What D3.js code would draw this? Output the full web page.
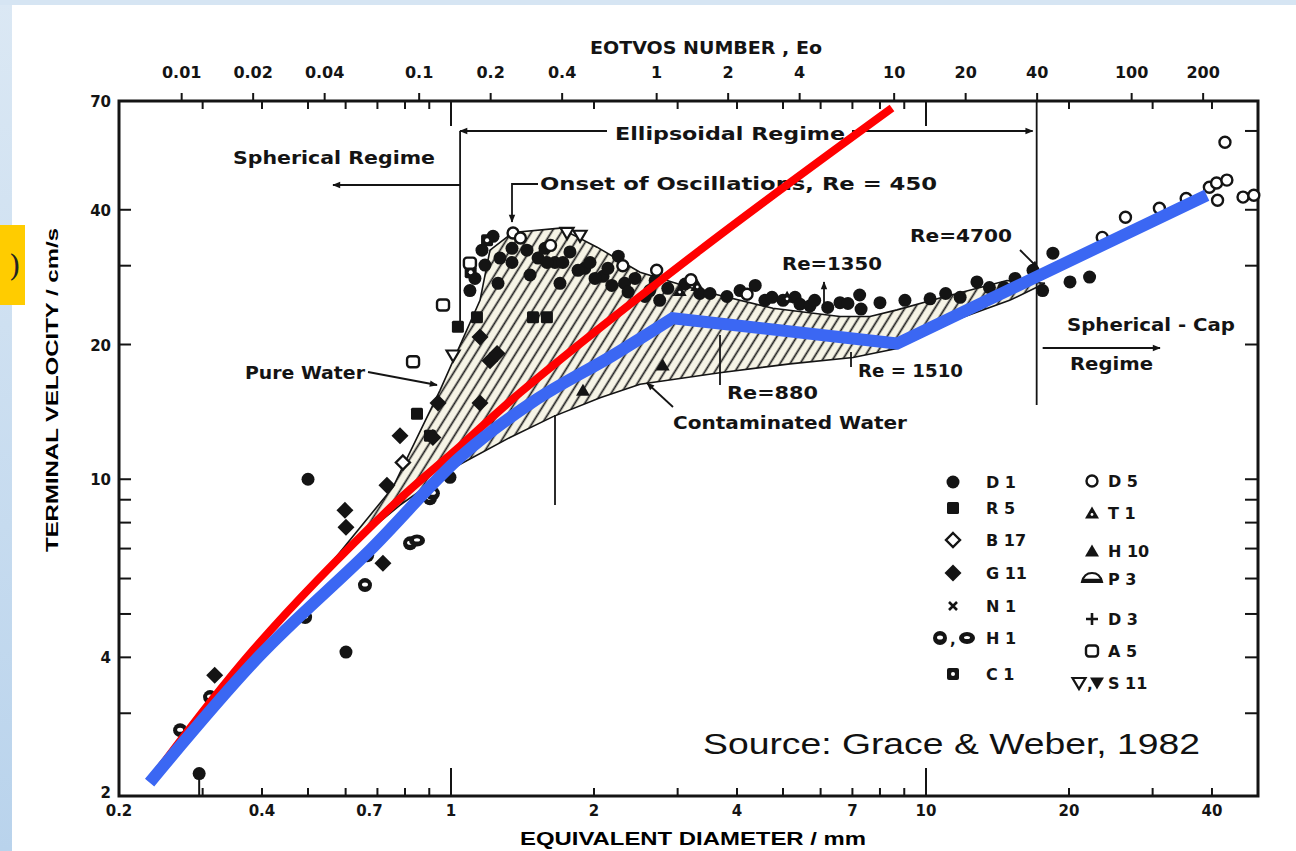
<!DOCTYPE html>
<html>
<head>
<meta charset="utf-8">
<script src="https://cdn.jsdelivr.net/npm/d3@7"></script>
<style>
  html, body { margin: 0; padding: 0; background: #fff; overflow: hidden; }
  svg { display: block; }
</style>
</head>
<body>
<svg id="chart" width="1296" height="851"></svg>
<script>
// ---------- axis tick values ----------
const diameterLabels = [0.2, 0.4, 0.7, 1, 2, 4, 7, 10, 20, 40];
const diameterMinorTicks = [0.3, 0.4, 0.5, 0.6, 0.7, 0.8, 0.9, 2, 3, 4, 5, 6, 7, 8, 9, 20, 30, 40];
const diameterMajorTicks = [1, 10];
const eotvosLabels = [0.01, 0.02, 0.04, 0.1, 0.2, 0.4, 1, 2, 4, 10, 20, 40, 100, 200];
const velocityLabels = [70, 40, 20, 10, 4, 2];
const velocityTicksLeft = [3, 4, 5, 6, 7, 8, 9, 10, 20, 30, 40];
const velocityTicksRight = [3, 4, 5, 6, 7, 8, 9, 10, 20, 30, 40, 60];
const diameterAtEo1 = 2.71;          // mm, air bubble in water where Eo = 1
const sphericalLimit = 1.045;        // mm, end of spherical regime
const capLimit = 17.1;               // mm, start of spherical-cap regime

// ---------- band between pure and contaminated water ([d mm, U cm/s]) ----------
const pureWater = [[0.570,6.66],[0.755,9.60],[0.948,15.8],[1.151,25.1],[1.208,32.5],[1.351,35.6],
  [1.696,36.4],[2.03,33.0],[2.50,29.0],[3.34,26.4],[4.76,24.1],[6.59,23.1],[7.62,23.1],[8.69,23.9],
  [10.7,25.4],[14.8,27.8],[17.8,27.4]];
const contaminatedWater = [[0.570,6.66],[0.781,8.75],[0.995,10.5],[1.331,12.4],[1.640,13.8],[2.06,15.2],
  [2.50,16.3],[3.68,17.3],[5.17,18.1],[7.02,18.7],[8.69,19.6],[11.8,22.9],[15.0,25.1],[17.8,27.4]];

// ---------- overlaid model curves ----------
const redCurve = [[0.232,2.11],[0.383,4.15],[0.755,8.75],[1.045,11.85],[1.397,15.6],[3.344,32.5],[8.48,67.5]];
const blueCurve = [[0.232,2.10],[0.396,4.04],[0.675,6.94],[1.045,11.2],[1.488,14.9],[2.19,18.9],
  [2.93,22.9],[8.69,20.1],[39.0,43.1]];
const blueSmoothCount = 7;           // first points follow a smooth curve, the rest are straight runs

// ---------- measured points by source ----------
const pointsD1 = [[0.500,10.0],[0.601,4.11],[0.995,10.1],
  [1.162,32.5],[1.226,34.9],[1.268,31.2],[1.344,30.5],[1.445,32.5],[1.525,31.2],[1.577,32.8],[1.655,30.5],
  [1.72,30.5],[1.780,32.2],[1.913,29.6],[1.962,30.5],[2.09,28.4],[2.14,29.6],[2.25,31.5],[2.32,27.4],
  [2.44,28.1],[2.62,26.4],[2.69,27.8],[2.86,26.7],[3.11,27.3],[3.34,26.0],[3.51,26.0],[3.81,25.6],
  [4.06,26.4],[4.37,27.1],[4.58,25.1],[4.74,25.5],[5.00,25.1],[5.30,25.5],[5.43,24.6],[5.70,24.4],
  [5.83,25.1],[6.21,24.2],[6.59,24.8],[6.85,24.7],[7.25,25.8],[7.3,24.0],[8.0,24.8],[9.03,25.1],
  [10.2,25.3],[11.0,26.0],[11.8,25.5],[12.8,27.6],[13.6,26.8],[14.6,26.8],[15.4,28.1],[16.8,29.3],
  [17.6,26.4],[18.5,32.0],[20.1,27.6],[22.1,28.3],
  [1.179,30.1],[1.256,27.4],[1.344,32.8],[1.467,28.6],[1.592,30.5],[1.696,27.4],[1.851,29.3],
  [2.01,28.1],[2.18,27.1],[2.36,26.2],[2.56,25.6],[2.75,25.1],[1.096,26.4],[1.123,28.1]];
const pointsD1Stem = [[0.295,2.20]];
const pointsR5 = [[0.903,12.5],[1.034,21.9],[1.134,23.0],[1.488,23.0],[1.592,23.0],[0.848,14.0]];
const pointsC1 = [[1.191,34.2],[1.10,29.0]];
const pointsB17 = [[0.792,10.9]];
const pointsG11 = [[0.318,3.65],[0.598,8.52],[0.601,7.81],[0.719,6.49],[0.733,9.70],[0.781,12.5],
  [0.916,12.4],[0.939,14.8],[1.151,14.8],[1.208,18.4],[1.151,20.8],[1.25,19.1]];
const pointsH1 = [[0.269,2.75],[0.311,3.26],[0.493,4.92],[0.659,5.80],[0.666,6.76],[0.820,7.19],
  [0.903,9.07],[0.916,9.30]];
const pointsH1Oval = [[0.848,7.30]];
const pointsD5 = [[1.351,35.5],[1.40,34.6],[1.62,33.3],[2.30,30.0],[2.71,29.3],[3.20,27.9],[4.2,25.9],
  [23.5,34.7],[26.3,38.5],[31.0,40.3],[35.3,42.4],[39.5,44.9],[40.9,45.9],[43.0,46.6],[41.1,42.0],
  [42.6,56.6],[46.5,42.7],[49.0,43.1]];
const pointsT1 = [[3.30,27.1],[3.03,26.4],[5.10,25.5]];
const pointsH10 = [[2.79,18.0],[1.896,15.8]];
const pointsA5 = [[1.096,30.4],[0.962,24.5],[0.832,18.3]];
const pointsS11Open = [[1.010,18.9],[1.755,35.5],[1.869,35.0]];

// ---------- legend entries ----------
const legendLeft = [["D1","D 1"],["R5","R 5"],["B17","B 17"],["G11","G 11"],["N1","N 1"],["H1pair","H 1"],["C1","C 1"]];
const legendRight = [["D5","D 5"],["T1","T 1"],["H10","H 10"],["P3","P 3"],["D3","D 3"],["A5","A 5"],["S11pair","S 11"]];

// ---------- setup ----------
const svg = d3.select("#chart");
const ink = "#141414";
const scanFont = "'DejaVu Sans', Verdana, sans-serif";
const titleFont = "'Liberation Sans', Arial, Helvetica, sans-serif";

const x = d3.scaleLog().domain([0.2, 50]).range([119, 1258]);
const y = d3.scaleLog().domain([1.96, 70]).range([796, 101]);
const eo = d3.scaleLog()
  .domain([(0.2 / diameterAtEo1) ** 2, (50 / diameterAtEo1) ** 2])
  .range([119, 1258]);

const defs = svg.append("defs");
const grad = defs.append("linearGradient").attr("id", "sideGrad").attr("x1", 0).attr("y1", 0).attr("x2", 0).attr("y2", 1);
grad.append("stop").attr("offset", 0).attr("stop-color", "#dbe8f4");
grad.append("stop").attr("offset", 1).attr("stop-color", "#b9d3ec");

const hatch = defs.append("pattern").attr("id", "hatch").attr("patternUnits", "userSpaceOnUse")
  .attr("width", 8.5).attr("height", 10).attr("patternTransform", "rotate(32)");
hatch.append("rect").attr("width", 8.5).attr("height", 10).attr("fill", "#f6f4e6");
hatch.append("line").attr("x1", 4.2).attr("x2", 4.2).attr("y1", 0).attr("y2", 10)
  .attr("stroke", "#1e1e1e").attr("stroke-width", 1.7);

defs.append("marker").attr("id", "arrow").attr("viewBox", "0 0 10 10").attr("refX", 9).attr("refY", 5)
  .attr("markerWidth", 10).attr("markerHeight", 8).attr("markerUnits", "userSpaceOnUse")
  .attr("orient", "auto-start-reverse")
  .append("path").attr("d", "M0,1L10,5L0,9Z").attr("fill", ink);

// page background
svg.append("rect").attr("width", 1296).attr("height", 851).attr("fill", "#ffffff");
svg.append("rect").attr("x", 0).attr("y", 0).attr("width", 12).attr("height", 851).attr("fill", "url(#sideGrad)");
svg.append("rect").attr("x", 0).attr("y", 0).attr("width", 1296).attr("height", 5).attr("fill", "#d6e5f3");
svg.append("rect").attr("x", 0).attr("y", 225).attr("width", 25).attr("height", 80).attr("fill", "#ffcc00");
svg.append("text").attr("x", 9).attr("y", 276).attr("font-family", "'DejaVu Serif', serif")
  .attr("font-size", 30).attr("fill", "#222").text(")");

// ---------- hatched band ----------
const line = d3.line().x(d => x(d[0])).y(d => y(d[1]));
const bandPts = pureWater.concat(contaminatedWater.slice().reverse());
svg.append("path").attr("d", line(bandPts) + "Z").attr("fill", "url(#hatch)");
svg.append("path").attr("d", line(pureWater)).attr("fill", "none").attr("stroke", ink).attr("stroke-width", 1.6);
svg.append("path").attr("d", line(contaminatedWater)).attr("fill", "none").attr("stroke", ink).attr("stroke-width", 1.6);

// ---------- frame and ticks ----------
const axes = svg.append("g").attr("stroke", ink).attr("fill", "none");
const [x0, x1] = x.range();
const [yB, yT] = y.range();
axes.append("rect").attr("x", x0).attr("y", yT).attr("width", x1 - x0).attr("height", yB - yT).attr("stroke-width", 3);
diameterMinorTicks.forEach(d => {
  axes.append("line").attr("x1", x(d)).attr("x2", x(d)).attr("y1", yB).attr("y2", yB - 8).attr("stroke-width", 2);
  axes.append("line").attr("x1", x(d)).attr("x2", x(d)).attr("y1", yT).attr("y2", yT + 8).attr("stroke-width", 2);
});
diameterMajorTicks.forEach(d => {
  axes.append("line").attr("x1", x(d)).attr("x2", x(d)).attr("y1", yB).attr("y2", yB - 28).attr("stroke-width", 2);
  axes.append("line").attr("x1", x(d)).attr("x2", x(d)).attr("y1", yT).attr("y2", yT + 25).attr("stroke-width", 2);
});
eotvosLabels.forEach(e => {
  axes.append("line").attr("x1", eo(e)).attr("x2", eo(e)).attr("y1", yT).attr("y2", yT - 8).attr("stroke-width", 2);
});
velocityTicksLeft.forEach(v => {
  axes.append("line").attr("x1", x0).attr("x2", x0 + 12).attr("y1", y(v)).attr("y2", y(v)).attr("stroke-width", 2);
});
velocityTicksRight.forEach(v => {
  axes.append("line").attr("x1", x1).attr("x2", x1 - 13).attr("y1", y(v)).attr("y2", y(v)).attr("stroke-width", 2);
});

// tick labels
const lab = svg.append("g").attr("font-family", scanFont).attr("font-weight", "bold").attr("fill", ink);
diameterLabels.forEach(d => {
  lab.append("text").attr("x", x(d) + (d === 0.7 ? -8 : 0)).attr("y", 816).attr("text-anchor", "middle")
    .attr("font-size", 15).text(d);
});
eotvosLabels.forEach(e => {
  lab.append("text").attr("x", eo(e)).attr("y", 78).attr("text-anchor", "middle")
    .attr("font-size", 16).text(e);
});
velocityLabels.forEach(v => {
  lab.append("text").attr("x", 111).attr("y", y(v) + 6).attr("text-anchor", "end")
    .attr("font-size", 15).text(v);
});

// axis titles
lab.append("text").attr("x", 590).attr("y", 54).attr("font-size", 17)
  .attr("textLength", 232).attr("lengthAdjust", "spacingAndGlyphs").text("EOTVOS NUMBER , Eo");
svg.append("text").attr("x", 520).attr("y", 845).attr("font-family", titleFont).attr("font-weight", "bold")
  .attr("font-size", 19).attr("fill", "#000").attr("textLength", 346).attr("lengthAdjust", "spacingAndGlyphs")
  .text("EQUIVALENT DIAMETER / mm");
svg.append("text").attr("transform", "translate(58,552) rotate(-90)").attr("font-family", titleFont)
  .attr("font-weight", "bold").attr("font-size", 16).attr("fill", "#000")
  .attr("textLength", 324).attr("lengthAdjust", "spacingAndGlyphs").text("TERMINAL VELOCITY / cm/s");

// ---------- regime annotations ----------
const ann = svg.append("g").attr("stroke", ink).attr("stroke-width", 1.8).attr("fill", "none");
const xs = x(sphericalLimit), xc = x(capLimit);
ann.append("line").attr("x1", xs).attr("x2", xs).attr("y1", 131).attr("y2", 330);
ann.append("line").attr("x1", xc).attr("x2", xc).attr("y1", yT).attr("y2", 405);
ann.append("line").attr("x1", 607).attr("x2", xs).attr("y1", 131).attr("y2", 131).attr("marker-end", "url(#arrow)");
ann.append("line").attr("x1", 852).attr("x2", xc - 4).attr("y1", 131).attr("y2", 131).attr("marker-end", "url(#arrow)");
ann.append("line").attr("x1", xs).attr("x2", 333).attr("y1", 185).attr("y2", 185).attr("marker-end", "url(#arrow)");
ann.append("path").attr("d", "M538,184H512V222").attr("marker-end", "url(#arrow)");
ann.append("line").attr("x1", 368).attr("x2", 437).attr("y1", 372).attr("y2", 385).attr("marker-end", "url(#arrow)");
ann.append("line").attr("x1", 555).attr("x2", 555).attr("y1", 415).attr("y2", 505);
ann.append("line").attr("x1", 720).attr("x2", 720).attr("y1", 335).attr("y2", 385);
ann.append("line").attr("x1", 851).attr("x2", 851).attr("y1", 352).attr("y2", 367);
ann.append("line").attr("x1", 824).attr("x2", 824).attr("y1", 312).attr("y2", 282).attr("marker-end", "url(#arrow)");
ann.append("line").attr("x1", 1020).attr("x2", 1038).attr("y1", 250).attr("y2", 268).attr("marker-end", "url(#arrow)");
ann.append("line").attr("x1", 673).attr("x2", 647).attr("y1", 407).attr("y2", 383).attr("marker-end", "url(#arrow)");
ann.append("line").attr("x1", xc + 6).attr("x2", 1160).attr("y1", 348).attr("y2", 348).attr("marker-end", "url(#arrow)");

const notes = [
  ["Spherical Regime", 233, 164, 202],
  ["Ellipsoidal  Regime", 615, 140, 230],
  ["Onset of Oscillations, Re = 450", 540, 190, 397],
  ["Pure Water", 245, 379, 120],
  ["Re=880", 727, 399, 91],
  ["Re=1350", 782, 270, 100],
  ["Re = 1510", 858, 377, 105],
  ["Re=4700", 910, 242, 102],
  ["Contaminated Water", 673, 429, 234],
  ["Spherical - Cap", 1067, 331, 168],
  ["Regime", 1070, 370, 83]
];
notes.forEach(([t, tx, ty, w]) => {
  lab.append("text").attr("x", tx).attr("y", ty).attr("font-size", 17)
    .attr("textLength", w).attr("lengthAdjust", "spacingAndGlyphs").text(t);
});

// ---------- markers ----------
function drawMarker(g, type, cx, cy) {
  const m = g.append("g").attr("transform", `translate(${cx},${cy})`);
  switch (type) {
    case "D1": m.append("circle").attr("r", 6.5).attr("fill", ink); break;
    case "R5": m.append("rect").attr("x", -6).attr("y", -6).attr("width", 12).attr("height", 12).attr("rx", 1.5).attr("fill", ink); break;
    case "C1":
      m.append("rect").attr("x", -6).attr("y", -6).attr("width", 12).attr("height", 12).attr("rx", 2).attr("fill", ink);
      m.append("circle").attr("r", 2).attr("fill", "#fff"); break;
    case "B17": m.append("path").attr("d", "M0,-7L7,0L0,7L-7,0Z").attr("fill", "#fff").attr("stroke", ink).attr("stroke-width", 2.4); break;
    case "G11": m.append("path").attr("d", "M0,-8.5L8.5,0L0,8.5L-8.5,0Z").attr("fill", ink); break;
    case "N1": m.append("path").attr("d", "M-4,-4L4,4M-4,4L4,-4").attr("stroke", ink).attr("stroke-width", 2.6); break;
    case "H1":
      m.append("circle").attr("r", 7).attr("fill", ink);
      m.append("ellipse").attr("rx", 3).attr("ry", 2).attr("cy", -0.5).attr("fill", "#fff"); break;
    case "H1oval":
      m.append("ellipse").attr("rx", 8).attr("ry", 6).attr("fill", ink);
      m.append("ellipse").attr("rx", 3).attr("ry", 1.6).attr("cy", -0.5).attr("fill", "#fff"); break;
    case "H1pair":
      drawMarker(g, "H1", cx - 13, cy);
      g.append("text").attr("x", cx - 3).attr("y", cy + 7).attr("font-family", scanFont).attr("font-weight", "bold")
        .attr("font-size", 15).attr("fill", ink).text(",");
      drawMarker(g, "H1oval", cx + 14, cy); break;
    case "D5": m.append("circle").attr("r", 5.5).attr("fill", "#fff").attr("stroke", ink).attr("stroke-width", 2.4); break;
    case "T1":
      m.append("path").attr("d", "M0,-6.5L7,5.5L-7,5.5Z").attr("fill", ink);
      m.append("circle").attr("cy", 1.5).attr("r", 1.4).attr("fill", "#fff"); break;
    case "H10": m.append("path").attr("d", "M0,-6.5L7,5.5L-7,5.5Z").attr("fill", ink); break;
    case "P3":
      m.append("path").attr("d", "M-10,3Q-8,-6 0,-6Q8,-6 10,3Z").attr("fill", "#fff").attr("stroke", ink).attr("stroke-width", 2.2);
      m.append("line").attr("x1", -10).attr("x2", 10).attr("y1", 1).attr("y2", 1).attr("stroke", ink).attr("stroke-width", 2.5); break;
    case "D3": m.append("path").attr("d", "M-6,0H6M0,-6V6").attr("stroke", ink).attr("stroke-width", 2.6); break;
    case "A5": m.append("rect").attr("x", -6).attr("y", -5.5).attr("width", 12).attr("height", 11).attr("rx", 3)
      .attr("fill", "#fff").attr("stroke", ink).attr("stroke-width", 2.4); break;
    case "S11o": m.append("path").attr("d", "M-6.5,-5L6.5,-5L0,6Z").attr("fill", "#fff").attr("stroke", ink).attr("stroke-width", 2.2); break;
    case "S11f": m.append("path").attr("d", "M-7,-5.5L7,-5.5L0,6.5Z").attr("fill", ink); break;
    case "S11pair":
      drawMarker(g, "S11o", cx - 13, cy);
      g.append("text").attr("x", cx - 5).attr("y", cy + 7).attr("font-family", scanFont).attr("font-weight", "bold")
        .attr("font-size", 15).attr("fill", ink).text(",");
      drawMarker(g, "S11f", cx + 5, cy); break;
  }
}

const pts = svg.append("g");
const series = [
  ["D1", pointsD1], ["R5", pointsR5], ["C1", pointsC1], ["B17", pointsB17], ["G11", pointsG11],
  ["H1", pointsH1], ["H1oval", pointsH1Oval], ["D5", pointsD5], ["T1", pointsT1], ["H10", pointsH10],
  ["A5", pointsA5], ["S11o", pointsS11Open]
];
series.forEach(([type, arr]) => arr.forEach(p => drawMarker(pts, type, x(p[0]), y(p[1]))));
pointsD1Stem.forEach(p => {
  pts.append("line").attr("x1", x(p[0])).attr("x2", x(p[0])).attr("y1", y(p[1])).attr("y2", yB)
    .attr("stroke", ink).attr("stroke-width", 2);
  drawMarker(pts, "D1", x(p[0]), y(p[1]));
});

// ---------- model curves ----------
const smoothLine = d3.line().x(d => x(d[0])).y(d => y(d[1])).curve(d3.curveCatmullRom.alpha(0.5));
svg.append("path").attr("d", smoothLine(redCurve))
  .attr("fill", "none").attr("stroke", "#ff0000").attr("stroke-width", 8);
const blueD = smoothLine(blueCurve.slice(0, blueSmoothCount)) +
  line(blueCurve.slice(blueSmoothCount - 1)).replace(/^M/, "L");
svg.append("path").attr("d", blueD)
  .attr("fill", "none").attr("stroke", "#3b67f3").attr("stroke-width", 12).attr("stroke-linejoin", "miter");

// ---------- legend ----------
const leg = svg.append("g");
const rowsLeft = [482, 508, 540, 573, 606, 638, 674];
const rowsRight = [481, 513, 551, 579, 619, 651, 683];
legendLeft.forEach(([type, label], i) => {
  drawMarker(leg, type, 953, rowsLeft[i]);
  leg.append("text").attr("x", 986).attr("y", rowsLeft[i] + 6).attr("font-family", scanFont).attr("font-weight", "bold")
    .attr("font-size", 16).attr("fill", ink).text(label);
});
legendRight.forEach(([type, label], i) => {
  drawMarker(leg, type, 1092, rowsRight[i]);
  leg.append("text").attr("x", 1108).attr("y", rowsRight[i] + 6).attr("font-family", scanFont).attr("font-weight", "bold")
    .attr("font-size", 16).attr("fill", ink).text(label);
});

// ---------- source ----------
svg.append("text").attr("x", 703).attr("y", 754).attr("font-family", titleFont).attr("font-size", 30)
  .attr("fill", "#111").attr("textLength", 497).attr("lengthAdjust", "spacingAndGlyphs")
  .text("Source: Grace & Weber, 1982");
</script>
</body>
</html>
